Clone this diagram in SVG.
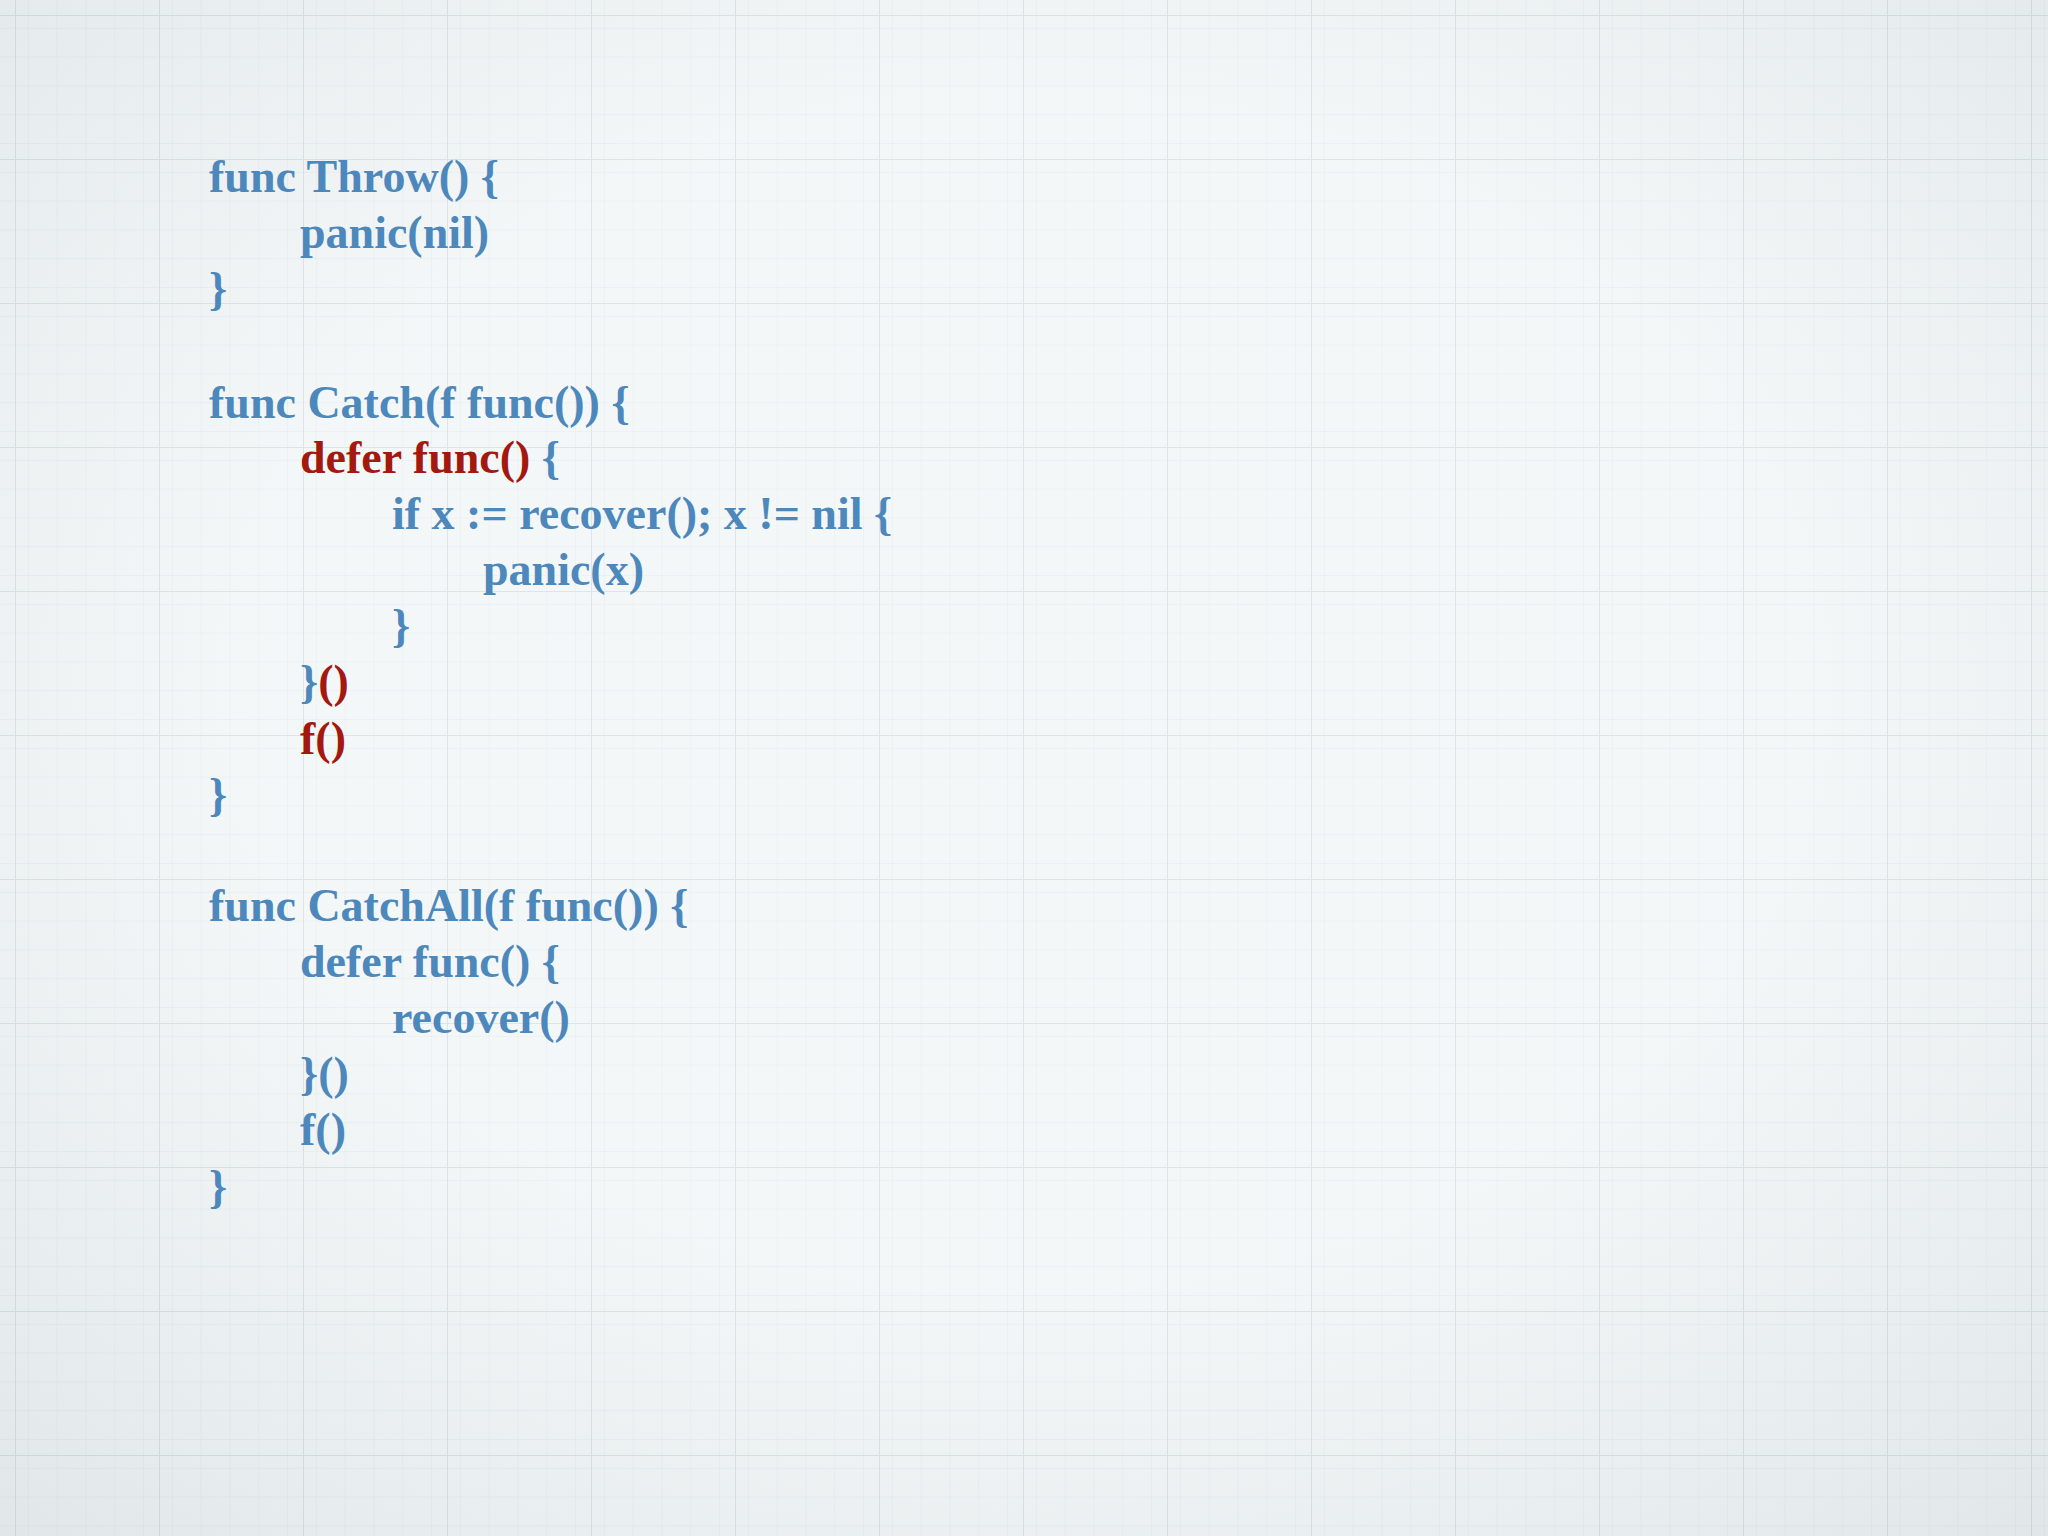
<svg xmlns="http://www.w3.org/2000/svg" width="2048" height="1536" viewBox="0 0 2048 1536">
<defs>
<pattern id="minor" width="28.8" height="28.8" patternUnits="userSpaceOnUse"><path d="M28.8 0V28.8H0" fill="none" stroke="#d6e2e6" stroke-width="1"/></pattern>
<pattern id="major" width="144" height="144" patternUnits="userSpaceOnUse" x="16" y="16"><path d="M144 0V144H0" fill="none" stroke="#c9d8de" stroke-width="2"/></pattern>
<radialGradient id="vig" cx="0.5" cy="0.45" r="0.75"><stop offset="0.5" stop-color="#ffffff" stop-opacity="0.35"/><stop offset="1" stop-color="#c8d0d3" stop-opacity="0.35"/></radialGradient>
<style>
text{font-family:"Liberation Serif","DejaVu Serif",serif;font-weight:bold;font-size:46px;fill:#4c88bb}
.r{fill:#a3190f}
</style>
</defs>
<rect width="2048" height="1536" fill="#eef3f4"/>
<rect width="2048" height="1536" fill="url(#minor)"/>
<rect width="2048" height="1536" fill="url(#major)"/>
<rect width="2048" height="1536" fill="url(#vig)"/>
<g id="code">
<text x="209" y="192">func Throw() {</text>
<text x="300" y="248">panic(nil)</text>
<text x="209" y="304">}</text>
<text x="209" y="418">func Catch(f func()) {</text>
<text x="300" y="473" class="r">defer func() <tspan fill="#4c88bb">{</tspan></text>
<text x="392" y="529">if x := recover(); x != nil {</text>
<text x="483" y="585">panic(x)</text>
<text x="392" y="641">}</text>
<text x="300" y="697">}<tspan class="r">()</tspan></text>
<text x="300" y="754" class="r">f()</text>
<text x="209" y="810">}</text>
<text x="209" y="921">func CatchAll(f func()) {</text>
<text x="300" y="977">defer func() {</text>
<text x="392" y="1033">recover()</text>
<text x="300" y="1089">}()</text>
<text x="300" y="1145">f()</text>
<text x="209" y="1202">}</text>
</g>
</svg>
